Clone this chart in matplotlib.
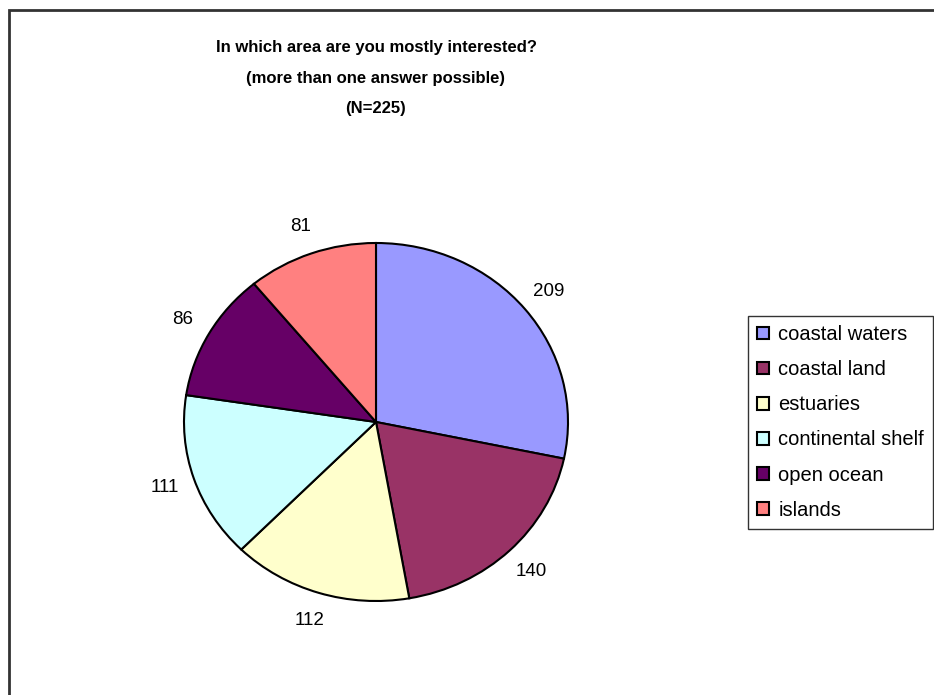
import matplotlib
matplotlib.use("Agg")
import matplotlib.pyplot as plt
from matplotlib.patches import Rectangle

plt.rcParams['font.family'] = ['Liberation Sans', 'DejaVu Sans']

categories = ['coastal waters', 'coastal land', 'estuaries',
              'continental shelf', 'open ocean', 'islands']
counts = [209, 140, 112, 111, 86, 81]
colors = ['#9999FF', '#993366', '#FFFFCC', '#CCFFFF', '#660066', '#FF8080']
title = 'In which area are you mostly interested?\n(more than one answer possible)\n(N=225)'

W, H = 934, 695
fig = plt.figure(figsize=(W / 100, H / 100), dpi=100)

# outer chart frame (runs off the right and bottom edges)
fig.patches.append(Rectangle((9 / W, -0.05), 1.1, 1 - 10 / H + 0.05,
                             transform=fig.transFigure, fill=False,
                             edgecolor='#333333', linewidth=2))

# pie axes: center (376, 422) px, rx 192, ry 179
ax = fig.add_axes([(376 - 192) / W, (H - 422 - 179) / H, 384 / W, 358 / H])
wedges, texts = ax.pie(counts, colors=colors, startangle=90, counterclock=False,
                       labels=[str(c) for c in counts], labeldistance=1.16,
                       wedgeprops=dict(edgecolor='black', linewidth=1.5),
                       textprops=dict(fontsize=13.5, ha='center', va='center'))
ax.set_aspect('auto')
ax.set_xlim(-1, 1)
ax.set_ylim(-1, 1)

fig.text(376 / W, 1 - 40 / H, title, ha='center', va='top', fontsize=12,
         fontweight='bold', linespacing=2.3)

leg = fig.legend(wedges, categories, loc='upper left',
                 bbox_to_anchor=(748 / W, 1 - 316 / H), frameon=True,
                 fancybox=False, edgecolor='black', borderaxespad=0,
                 fontsize=14.5, handlelength=0.6, handleheight=0.6,
                 handletextpad=0.45, labelspacing=0.8, borderpad=0.45)
leg.get_frame().set_linewidth(1)

fig.savefig('out.png', dpi=100)
